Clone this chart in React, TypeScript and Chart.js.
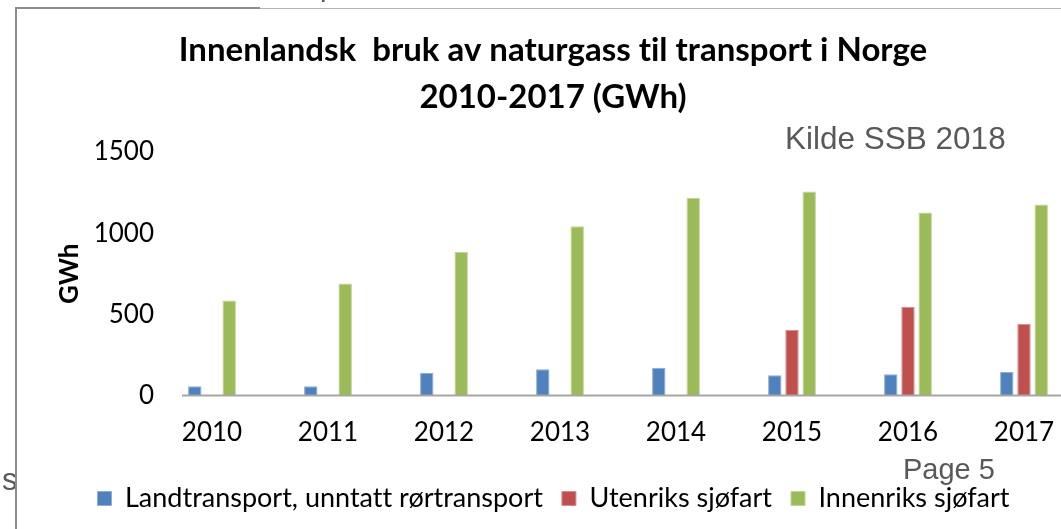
import React, { useEffect, useRef } from "react";
import { Chart, registerables } from "chart.js";

Chart.register(...registerables);

const years = ["2010", "2011", "2012", "2013", "2014", "2015", "2016", "2017"];
const landtransport = [58, 58, 139, 163, 171, 125, 131, 147];
const utenriksSjofart = [null, null, null, null, null, 404, 547, 443];
const innenriksSjofart = [586, 690, 884, 1043, 1218, 1257, 1128, 1177];
const seriesNames = [
  "Landtransport, unntatt rørtransport",
  "Utenriks sjøfart",
  "Innenriks sjøfart",
];
const yTickValues = [0, 500, 1000, 1500];
const titleLines = [
  "Innenlandsk  bruk av naturgass til transport i Norge",
  "2010-2017 (GWh)",
];
const yAxisTitle = "GWh";
const sourceText = "Kilde SSB 2018";
const pageText = "Page 5";

const CANVAS_W = 1106;
const CANVAS_H = 529;

const noLigaturePlugin = {
  id: "noLigature",
  beforeDraw(chart: any) {
    try {
      chart.ctx.textRendering = "optimizeSpeed";
    } catch (e) {
      /* ignore */
    }
  },
};

const baselinePlugin = {
  id: "baseline",
  afterDatasetsDraw(chart: any) {
    const { ctx, chartArea, scales } = chart;
    const y = scales.y.getPixelForValue(0);
    ctx.save();
    ctx.strokeStyle = "#a6a6a6";
    ctx.lineWidth = 2;
    ctx.beginPath();
    ctx.moveTo(chartArea.left + 28, y);
    ctx.lineTo(chartArea.right, y);
    ctx.stroke();
    ctx.restore();
  },
};

export default function App() {
  const canvasRef = useRef<HTMLCanvasElement | null>(null);

  useEffect(() => {
    if (!canvasRef.current) return;
    const chart = new Chart(canvasRef.current, {
      type: "bar",
      data: {
        labels: years,
        datasets: [
          {
            label: seriesNames[0],
            data: landtransport,
            backgroundColor: "#4F81BD",
            borderColor: "#8DADD6",
            borderWidth: 1,
          },
          {
            label: seriesNames[1],
            data: utenriksSjofart,
            backgroundColor: "#C0504D",
            borderColor: "#D68C8A",
            borderWidth: 1,
          },
          {
            label: seriesNames[2],
            data: innenriksSjofart,
            backgroundColor: "#9BBB59",
            borderColor: "#BFD498",
            borderWidth: 1,
          },
        ],
      },
      options: {
        responsive: false,
        animation: false,
        events: [],
        datasets: {
          bar: {
            categoryPercentage: 0.445,
            barPercentage: 0.78,
          },
        },
        layout: { padding: { left: 0, right: 0, top: 0, bottom: 7 } },
        scales: {
          x: {
            type: "category",
            offset: true,
            grid: { display: false, drawTicks: false },
            border: { display: false },
            ticks: {
              color: "#000",
              font: { family: "Lato", size: 26 },
              padding: 21.5,
              maxRotation: 0,
              autoSkip: false,
            },
            afterFit: (scale: any) => {
              scale.height = scale.height - 3.8;
            },
          },
          y: {
            min: 0,
            max: 1500,
            afterBuildTicks: (scale: any) => {
              scale.ticks = yTickValues.map((v) => ({ value: v }));
            },
            afterFit: (scale: any) => {
              scale.width = 154;
            },
            grid: { display: false, drawTicks: false },
            border: { display: false },
            ticks: {
              color: "#000",
              font: { family: "Lato", size: 26 },
              padding: 0,
              callback: (v: any) => String(v),
            },
            title: {
              display: true,
              text: yAxisTitle,
              color: "#000",
              font: { family: "Lato", size: 26, weight: "bold" },
              padding: { top: 54, bottom: 0 },
            },
          },
          yRight: {
            position: "right",
            display: true,
            grid: { display: false, drawTicks: false },
            border: { display: false },
            ticks: { display: false },
            afterFit: (scale: any) => {
              scale.width = 24;
            },
          },
        },
        plugins: {
          tooltip: { enabled: false },
          title: {
            display: true,
            text: titleLines,
            color: "#000",
            font: { family: "Lato", size: 33, weight: "bold", lineHeight: 1.424 },
            padding: { top: 27, bottom: 31 },
          },
          legend: {
            display: true,
            position: "bottom",
            labels: {
              color: "#000",
              font: { family: "Lato", size: 27 },
              boxWidth: 14,
              boxHeight: 14,
              padding: 19,
            },
          },
        },
      },
      plugins: [noLigaturePlugin, baselinePlugin],
    } as any);
    return () => chart.destroy();
  }, []);

  return (
    <div
      style={{
        position: "fixed",
        left: 0,
        top: 0,
        width: 1061,
        height: 529,
        overflow: "hidden",
        background: "#fff",
      }}
    >
      <canvas
        ref={canvasRef}
        width={CANVAS_W}
        height={CANVAS_H}
        style={{ position: "absolute", left: 0, top: 0, width: CANVAS_W, height: CANVAS_H }}
      />
      <div
        style={{
          position: "absolute",
          left: 785,
          top: 123,
          fontFamily: "'Liberation Sans', Arial, sans-serif",
          fontSize: 31.5,
          lineHeight: "31.5px",
          color: "#595959",
          whiteSpace: "nowrap",
        }}
      >
        {sourceText}
      </div>
      <div
        style={{
          position: "absolute",
          left: 903,
          top: 454.5,
          fontFamily: "'Liberation Sans', Arial, sans-serif",
          fontSize: 29,
          lineHeight: "29px",
          color: "#595959",
          whiteSpace: "nowrap",
        }}
      >
        {pageText}
      </div>
      <div
        style={{
          position: "absolute",
          left: 2,
          top: 464,
          fontFamily: "'Liberation Sans', Arial, sans-serif",
          fontSize: 31,
          lineHeight: "31px",
          color: "#595959",
        }}
      >
        s
      </div>
      <div
        style={{
          position: "absolute",
          left: 320,
          top: -28.5,
          fontFamily: "'Liberation Sans', Arial, sans-serif",
          fontSize: 29,
          lineHeight: "29px",
          color: "#595959",
        }}
      >
        p
      </div>
      <div style={{ position: "absolute", left: 15, top: 7, width: 2, height: 522, background: "#8c8c8c" }} />
      <div style={{ position: "absolute", left: 15, top: 7, width: 245, height: 2, background: "#8c8c8c" }} />
      <div style={{ position: "absolute", left: 260, top: 8, width: 801, height: 1, background: "#b4b4b4" }} />
    </div>
  );
}
